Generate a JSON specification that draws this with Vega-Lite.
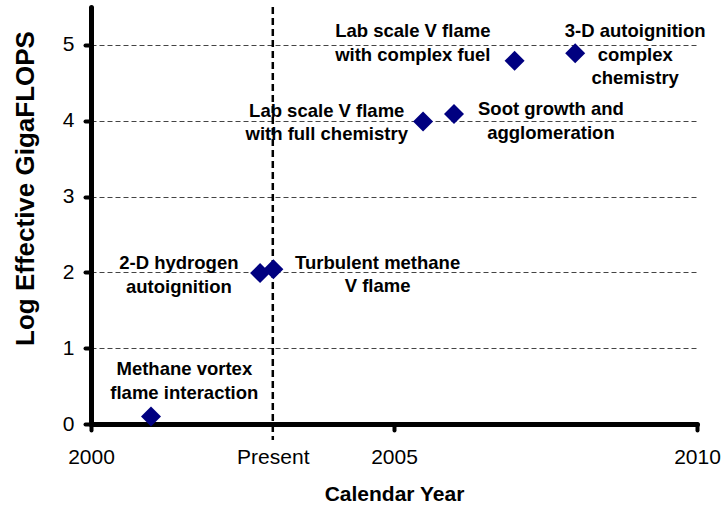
{
  "$schema": "https://vega.github.io/schema/vega-lite/v6.json",
  "width": 606,
  "height": 417,
  "autosize": {"type": "none"},
  "padding": {"left": 91, "top": 7, "right": 24, "bottom": 82},
  "background": "white",
  "config": {
    "view": {"stroke": null},
    "font": "Liberation Sans",
    "axis": {
      "domainColor": "black",
      "domainWidth": 5,
      "domainCap": "round",
      "tickColor": "black",
      "tickWidth": 4,
      "tickCap": "round",
      "tickSize": 6,
      "labelColor": "black",
      "labelFont": "Liberation Sans",
      "labelFontSize": 21,
      "titleColor": "black",
      "titleFont": "Liberation Sans",
      "titleFontWeight": "bold"
    }
  },
  "datasets": {
    "points": [
      {"year": 2000.99, "logflops": 0.1},
      {"year": 2002.79, "logflops": 1.99},
      {"year": 2003.01, "logflops": 2.04},
      {"year": 2005.48, "logflops": 3.99},
      {"year": 2005.99, "logflops": 4.09},
      {"year": 2006.99, "logflops": 4.79},
      {"year": 2007.99, "logflops": 4.89}
    ],
    "labels": [
      {"text": "Methane vortex\nflame interaction", "lx": 2001.54, "ly": 0.64},
      {"text": "2-D hydrogen\nautoignition", "lx": 2001.45, "ly": 2.04},
      {"text": "Turbulent methane\nV flame", "lx": 2004.73, "ly": 2.05},
      {"text": "Lab scale V flame\nwith full chemistry", "lx": 2003.89, "ly": 4.05},
      {"text": "Soot growth and\nagglomeration", "lx": 2007.59, "ly": 4.07},
      {"text": "Lab scale V flame\nwith complex fuel", "lx": 2005.31, "ly": 5.1},
      {"text": "3-D autoignition\ncomplex\nchemistry", "lx": 2008.98, "ly": 5.1}
    ],
    "present": [
      {"year": 2003, "top": 5.5, "bottom": -0.21}
    ]
  },
  "layer": [
    {
      "data": {"name": "present"},
      "mark": {"type": "rule", "color": "black", "strokeWidth": 2.5, "strokeDash": [7, 4]},
      "encoding": {
        "x": {
          "field": "year", "type": "quantitative",
          "scale": {"domain": [2000, 2010], "nice": false, "zero": false},
          "axis": {
            "values": [2000, 2003, 2005, 2010],
            "labelExpr": "datum.value == 2003 ? 'Present' : format(datum.value, 'd')",
            "grid": false,
            "labelFlush": false,
            "labelOverlap": false,
            "labelPadding": 16,
            "tickOpacity": {"condition": {"test": "datum.value == 2003", "value": 0}, "value": 1},
            "title": "Calendar Year",
            "titleFontSize": 21,
            "titleBaseline": "alphabetic",
            "titleY": 76
          }
        },
        "y": {
          "field": "top", "type": "quantitative",
          "scale": {"domain": [0, 5.5], "nice": false, "zero": true},
          "axis": {
            "values": [0, 1, 2, 3, 4, 5],
            "format": "d",
            "grid": true,
            "gridColor": "#444444",
            "gridDash": [5, 3],
            "gridWidth": 1,
            "labelPadding": 11,
            "title": "Log Effective GigaFLOPS",
            "titleFontSize": 26,
            "titleBaseline": "alphabetic",
            "titleAlign": "center",
            "titleX": -58,
            "titleY": 181
          }
        },
        "y2": {"field": "bottom"}
      }
    },
    {
      "data": {"name": "points"},
      "mark": {"type": "point", "shape": "diamond", "filled": true, "color": "#000080", "opacity": 1, "size": 400},
      "encoding": {
        "x": {"field": "year", "type": "quantitative"},
        "y": {"field": "logflops", "type": "quantitative"}
      }
    },
    {
      "data": {"name": "labels"},
      "mark": {
        "type": "text",
        "font": "Liberation Sans",
        "fontWeight": "bold",
        "fontSize": 18.5,
        "lineHeight": 23.5,
        "lineBreak": "\n",
        "align": "center",
        "baseline": "alphabetic",
        "color": "black"
      },
      "encoding": {
        "x": {"field": "lx", "type": "quantitative"},
        "y": {"field": "ly", "type": "quantitative"},
        "text": {"field": "text"}
      }
    }
  ]
}
